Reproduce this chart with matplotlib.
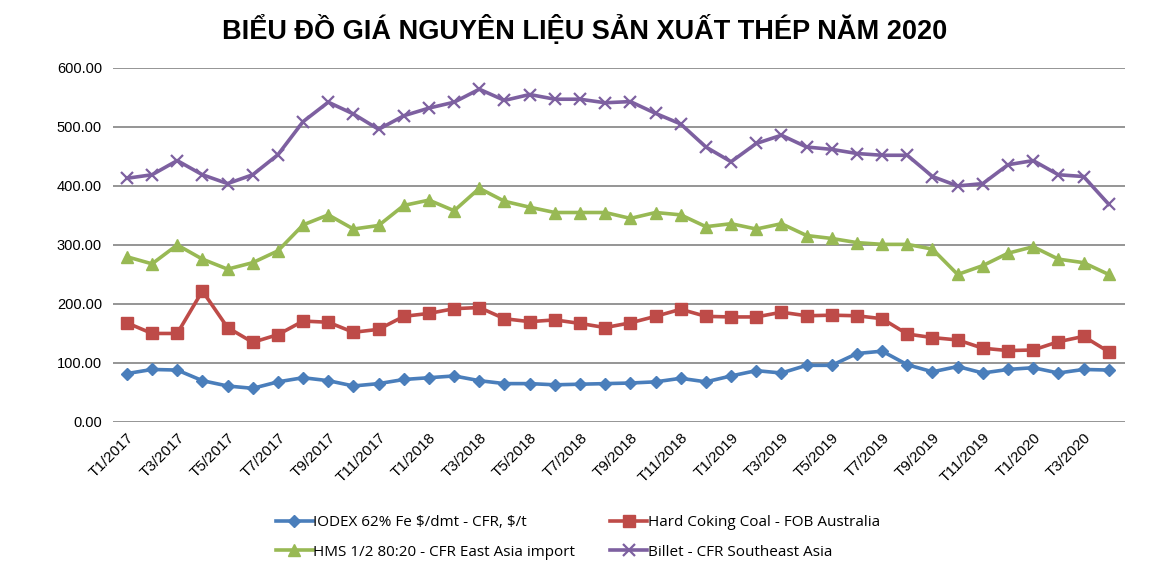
import matplotlib
matplotlib.use("Agg")
import matplotlib.pyplot as plt
import numpy as np

# months T1/2017 .. T4/2020
months = ["T%d/%d" % (m, y) for y in (2017, 2018, 2019) for m in range(1, 13)]
months += ["T%d/2020" % m for m in range(1, 5)]

iodex = [82, 89, 88, 70, 61, 57, 68, 75, 70, 61, 65, 72, 75, 78, 70, 65, 65, 63, 64, 65,
         66, 68, 74, 68, 78, 87, 83, 96, 96, 116, 120, 97, 85, 94, 83, 89, 92, 83, 89, 88]
coking = [168, 150, 150, 222, 160, 135, 148, 171, 169, 152, 157, 179, 184, 192, 194, 175, 170, 173, 167, 160,
          168, 179, 191, 179, 178, 178, 186, 180, 181, 180, 175, 149, 143, 139, 125, 121, 122, 136, 145, 119]
hms = [280, 268, 300, 276, 259, 270, 290, 334, 351, 327, 333, 367, 376, 358, 396, 374, 364, 355, 355, 355,
       345, 355, 351, 331, 336, 327, 336, 316, 311, 304, 301, 301, 293, 250, 265, 286, 297, 276, 270, 250]
billet = [413, 419, 443, 419, 404, 419, 453, 509, 542, 522, 496, 519, 532, 542, 564, 545, 555, 547, 547, 541,
          543, 523, 505, 466, 441, 472, 486, 466, 462, 455, 452, 452, 416, 400, 404, 436, 443, 419, 416, 369]

labels = [r"IODEX 62% Fe \$/dmt - CFR, \$/t", "Hard Coking Coal - FOB Australia",
          "HMS 1/2 80:20 - CFR East Asia import", "Billet - CFR Southeast Asia"]

fig = plt.figure(figsize=(11.7, 5.71), dpi=100)
ax = fig.add_axes([0.0966, 0.261, 0.865, 0.620])

x = np.arange(len(months))
l1, = ax.plot(x, iodex, color="#4A7EBB", lw=2.6, marker="D", ms=6.5, label=labels[0])
l2, = ax.plot(x, coking, color="#BE4B48", lw=2.6, marker="s", ms=9, label=labels[1])
l3, = ax.plot(x, hms, color="#98B954", lw=2.6, marker="^", ms=9, label=labels[2])
l4, = ax.plot(x, billet, color="#7D60A0", lw=2.6, marker="x", ms=8, mew=1.6, label=labels[3])

ax.set_ylim(0, 600)
ax.set_yticks(np.arange(0, 601, 100))
ax.set_yticklabels(["%.2f" % v for v in np.arange(0, 601, 100)], fontsize=10.5,
                   fontfamily="Liberation Sans")
ax.set_xlim(-0.55, 39.65)
ax.set_xticks(x[::2])
ax.set_xticklabels(months[::2], rotation=45, ha="right", rotation_mode="anchor",
                   fontsize=11, fontfamily="Liberation Sans")
ax.tick_params(axis="both", length=0, pad=8)
ax.tick_params(axis="x", pad=6)
ax.grid(axis="y", color="#8C8C8C", lw=1.3)
ax.set_axisbelow(True)
for s in ax.spines.values():
    s.set_visible(False)

fig.text(0.5, 0.947, "BIỂU ĐỒ GIÁ NGUYÊN LIỆU SẢN XUẤT THÉP NĂM 2020", ha="center", va="center",
         fontsize=19.5, fontweight="bold", fontfamily="Liberation Sans")

# legend rows: IODEX | Coking, HMS | Billet
fig.legend([l1, l3, l2, l4], [labels[0], labels[2], labels[1], labels[3]],
           loc="lower center", bbox_to_anchor=(0.494, -0.004), ncol=2, frameon=False,
           prop={"family": "Open Sans", "size": 11}, handlelength=2.4,
           handletextpad=0.05, columnspacing=2.3, labelspacing=0.95)

fig.savefig("out.png", dpi=100)
